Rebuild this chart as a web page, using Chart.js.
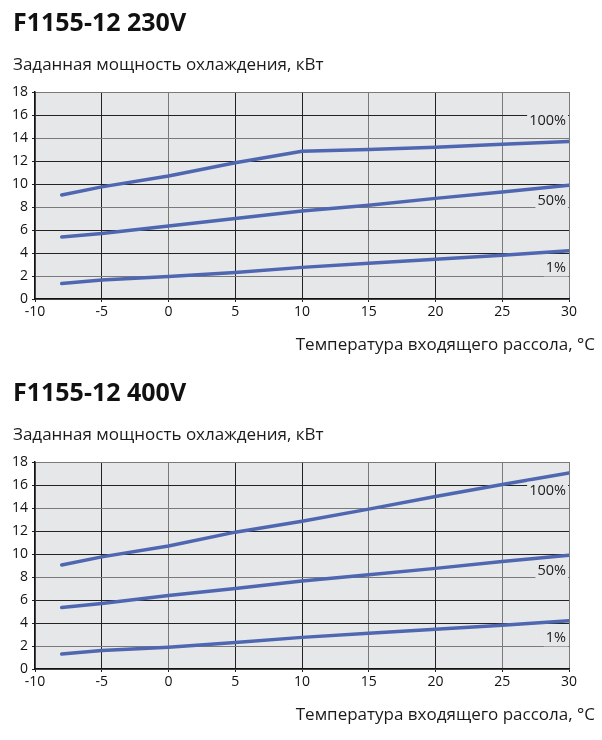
<!DOCTYPE html>
<html lang="ru">
<head>
    <meta charset="UTF-8">
    <title>F1155-12 мощность охлаждения</title>
    <script src="https://cdn.jsdelivr.net/npm/chart.js"></script>
    <style>
        body {
            margin: 0;
            background: #fff;
            font-family: "Open Sans", sans-serif;
        }
        .box {
            width: 602px;
            height: 370px;
        }
    </style>
</head>
<body>
    <div class="box"><canvas id="chart230" width="602" height="370"></canvas></div>
    <div class="box"><canvas id="chart400" width="602" height="370"></canvas></div>

    <script>
        // Температура входящего рассола, °C
        const temps = [-8, -5, 0, 5, 10, 15, 20, 25, 30];

        // F1155-12 230V, кВт
        const p230_100 = [9.05, 9.75, 10.7, 11.85, 12.85, 13.0, 13.2, 13.45, 13.7];
        const p230_50 = [5.4, 5.7, 6.35, 7.0, 7.65, 8.15, 8.75, 9.3, 9.9];
        const p230_1 = [1.35, 1.65, 1.95, 2.3, 2.75, 3.1, 3.45, 3.8, 4.2];

        // F1155-12 400V, кВт
        const p400_100 = [9.05, 9.75, 10.7, 11.9, 12.85, 13.9, 15.0, 16.05, 17.05];
        const p400_50 = [5.35, 5.7, 6.4, 7.0, 7.65, 8.2, 8.75, 9.35, 9.9];
        const p400_1 = [1.3, 1.6, 1.9, 2.3, 2.75, 3.1, 3.45, 3.8, 4.2];

        // подписи кривых и их уровень по оси Y
        const curveNames = ['100%', '50%', '1%'];
        const curveLabelY = [15.5, 8.5, 2.75];

        const FONT = '"Open Sans", sans-serif';
        const LINE = '#4f67b1';
        const PLOT_BG = '#e6e7e9';

        // линии сетки: часть темнее, часть серее (как на оригинале)
        const darkX = [-5, 5, 10, 20];
        const darkY = [16, 12, 10, 6, 4];

        const plotBackground = {
            id: 'plotBackground',
            beforeDraw(chart) {
                const { ctx, chartArea: a } = chart;
                ctx.save();
                ctx.fillStyle = PLOT_BG;
                ctx.fillRect(a.left, a.top, a.right - a.left, a.bottom - a.top);
                ctx.restore();
            }
        };

        const curveLabels = {
            id: 'curveLabels',
            afterDatasetsDraw(chart) {
                const { ctx, scales } = chart;
                ctx.save();
                ctx.font = '14.5px ' + FONT;
                ctx.textAlign = 'right';
                ctx.textBaseline = 'middle';
                const right = scales.x.getPixelForValue(30) - 3;
                curveNames.forEach((name, i) => {
                    const y = scales.y.getPixelForValue(curveLabelY[i]);
                    const w = ctx.measureText(name).width;
                    ctx.fillStyle = PLOT_BG;
                    ctx.fillRect(right - w - 2, y - 9, w + 4, 18);
                    ctx.fillStyle = '#1a1a1a';
                    ctx.fillText(name, right, y);
                });
                ctx.restore();
            }
        };

        const xTitle = {
            id: 'xTitle',
            afterDraw(chart) {
                const { ctx, chartArea } = chart;
                ctx.save();
                ctx.font = '17px ' + FONT;
                ctx.fillStyle = '#1a1a1a';
                ctx.textAlign = 'right';
                ctx.textBaseline = 'middle';
                ctx.fillText('Температура входящего рассола, °C', chart.width - 7, chartArea.bottom + 46);
                ctx.restore();
            }
        };

        function makeSeries(values) {
            return {
                data: temps.map((t, i) => ({ x: t, y: values[i] })),
                borderColor: LINE,
                borderWidth: 3.5,
                borderCapStyle: 'round',
                pointRadius: 0,
                tension: 0,
                fill: false
            };
        }

        function makeChart(id, title, series) {
            return new Chart(document.getElementById(id), {
                type: 'line',
                data: { datasets: series.map(makeSeries) },
                options: {
                    responsive: false,
                    animation: false,
                    layout: { padding: { left: 13, right: 33, bottom: 49 } },
                    plugins: {
                        legend: { display: false },
                        tooltip: { enabled: false },
                        title: {
                            display: true,
                            text: title,
                            align: 'start',
                            color: '#111',
                            font: { family: FONT, size: 25, weight: 'bold' },
                            padding: { top: 8.5, bottom: 0 }
                        },
                        subtitle: {
                            display: true,
                            text: 'Заданная мощность охлаждения, кВт',
                            align: 'start',
                            color: '#1a1a1a',
                            font: { family: FONT, size: 17 },
                            padding: { top: 16.3, bottom: 16.8 }
                        }
                    },
                    scales: {
                        x: {
                            type: 'linear',
                            min: -10,
                            max: 30,
                            afterFit(s) { s.height = 22; },
                            ticks: {
                                stepSize: 5,
                                color: '#111',
                                padding: 2,
                                font: { family: FONT, size: 14 }
                            },
                            grid: {
                                color: c => darkX.includes(c.tick && c.tick.value) ? '#222' : '#7a7a7a',
                                tickLength: 3,
                                tickColor: '#222'
                            },
                            border: { color: '#111', width: 1.5 }
                        },
                        y: {
                            min: 0,
                            max: 18,
                            afterFit(s) { s.width = 22; },
                            ticks: {
                                stepSize: 2,
                                color: '#111',
                                padding: 4,
                                font: { family: FONT, size: 14 }
                            },
                            grid: {
                                color: c => darkY.includes(c.tick && c.tick.value) ? '#222' : '#7a7a7a',
                                tickLength: 3,
                                tickColor: '#222'
                            },
                            border: { color: '#111', width: 1.5 }
                        }
                    }
                },
                plugins: [plotBackground, curveLabels, xTitle]
            });
        }

        makeChart('chart230', 'F1155-12 230V', [p230_100, p230_50, p230_1]);
        makeChart('chart400', 'F1155-12 400V', [p400_100, p400_50, p400_1]);
    </script>
</body>
</html>
